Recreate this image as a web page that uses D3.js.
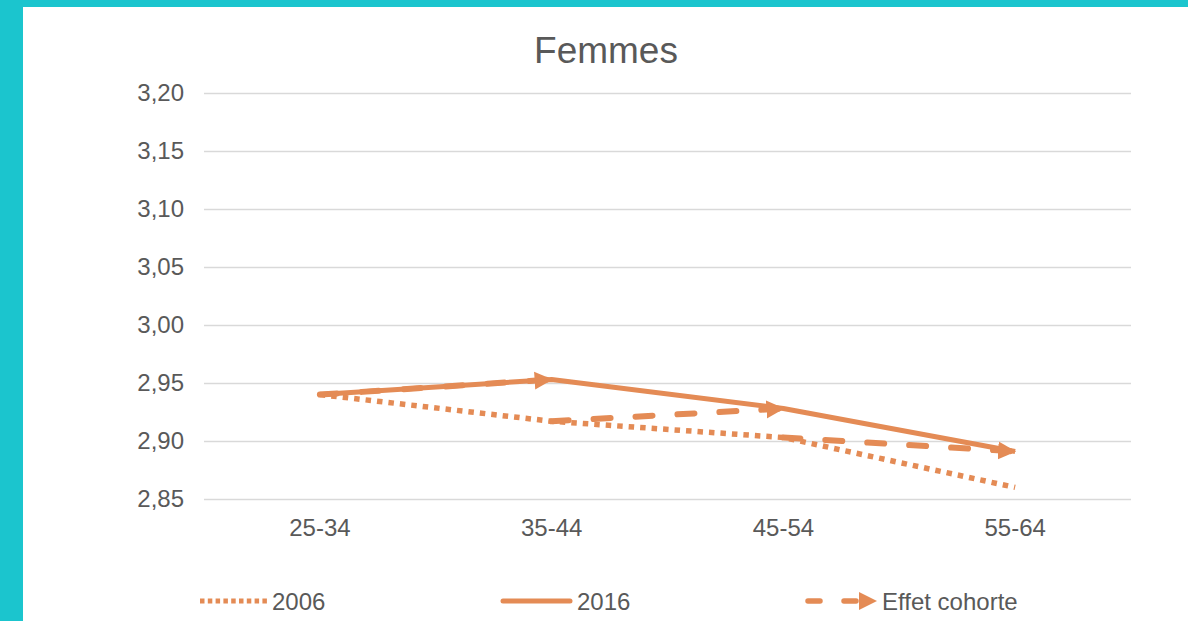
<!DOCTYPE html>
<html><head><meta charset="utf-8">
<script src="https://cdn.jsdelivr.net/npm/d3@7"></script>
<style>body{margin:0;background:#fff;}svg{display:block;font-family:"Liberation Sans",Arial,sans-serif;}</style>
</head><body>
<svg id="c" width="1188" height="621"></svg>
<script>
const categories = ["25-34", "35-44", "45-54", "55-64"];
const values2006 = [2.940, 2.917, 2.903, 2.860];
const values2016 = [2.940, 2.953, 2.928, 2.891];
const yTicks = [2.85, 2.90, 2.95, 3.00, 3.05, 3.10, 3.15, 3.20];
const title = "Femmes";
const legendLabels = ["2006", "2016", "Effet cohorte"];

const orange = "#E48B55", teal = "#1BC5CE", textCol = "#595959", grid = "#D9D9D9";
const svg = d3.select("#c");
svg.append("rect").attr("width",1188).attr("height",621).attr("fill",teal);
svg.append("rect").attr("x",23).attr("y",7).attr("width",1165).attr("height",614).attr("fill","#fff");

const x = d3.scaleBand().domain(categories).range([204,1131]);
const y = d3.scaleLinear().domain([2.85,3.20]).range([499,93]);
const cx = c => x(c) + x.bandwidth()/2;

svg.append("text").attr("x",606).attr("y",63).attr("text-anchor","middle")
  .attr("font-size",37).attr("fill",textCol).text(title);

const fmt = d => d.toFixed(2).replace(".", ",");
const yAxis = svg.append("g").attr("transform","translate(204,0)")
  .call(d3.axisLeft(y).tickValues(yTicks).tickFormat(fmt).tickSize(-927).tickPadding(20));
yAxis.select(".domain").remove();
yAxis.selectAll("line").attr("stroke",grid).attr("stroke-width",1.6);
yAxis.selectAll("text").attr("font-size",24).attr("fill",textCol).attr("font-family","Liberation Sans, Arial, sans-serif");

const xAxis = svg.append("g").attr("transform","translate(0,499)")
  .call(d3.axisBottom(x).tickSize(0).tickPadding(20));
xAxis.select(".domain").remove();
xAxis.selectAll("text").attr("font-size",24).attr("fill",textCol).attr("font-family","Liberation Sans, Arial, sans-serif");

const defs = svg.append("defs");
defs.append("marker").attr("id","arr").attr("markerUnits","userSpaceOnUse")
  .attr("markerWidth",20).attr("markerHeight",20).attr("refX",17).attr("refY",9)
  .attr("orient","auto").attr("viewBox","0 0 20 18")
  .append("path").attr("d","M0,0 L18,9 L0,18 Z").attr("fill",orange);

const line = d3.line().x(d=>cx(d[0])).y(d=>y(d[1]));
const pts2006 = categories.map((c,i)=>[c,values2006[i]]);
const pts2016 = categories.map((c,i)=>[c,values2016[i]]);

svg.append("path").attr("d",line(pts2006)).attr("fill","none").attr("stroke",orange)
  .attr("stroke-width",5.5).attr("stroke-dasharray","5.5,6");
svg.append("path").attr("d",line(pts2016)).attr("fill","none").attr("stroke",orange)
  .attr("stroke-width",5).attr("stroke-linejoin","round");

for (let i=0;i<categories.length-1;i++){
  const seg = [[categories[i],values2006[i]],[categories[i+1],values2016[i+1]]];
  svg.append("path").attr("d",line(seg)).attr("fill","none").attr("stroke",orange)
    .attr("stroke-width",6).attr("stroke-linecap","round").attr("stroke-dasharray","17,25")
    .attr("marker-end","url(#arr)");
}

// legend
const ly = 601;
const lg = svg.append("g");
lg.append("line").attr("x1",200).attr("x2",268).attr("y1",ly).attr("y2",ly)
  .attr("stroke",orange).attr("stroke-width",5).attr("stroke-dasharray","4.5,3.3");
lg.append("line").attr("x1",503).attr("x2",570).attr("y1",ly).attr("y2",ly)
  .attr("stroke",orange).attr("stroke-width",5).attr("stroke-linecap","round");
lg.append("line").attr("x1",808).attr("x2",876).attr("y1",ly).attr("y2",ly)
  .attr("stroke",orange).attr("stroke-width",5.5).attr("stroke-linecap","round")
  .attr("stroke-dasharray","12,24").attr("marker-end","url(#arr)");
[[272,0],[577,1],[882,2]].forEach(([lx,i])=>{
  lg.append("text").attr("x",lx).attr("y",ly+8.5).attr("font-size",24).attr("fill",textCol).text(legendLabels[i]);
});
</script>
</body></html>
